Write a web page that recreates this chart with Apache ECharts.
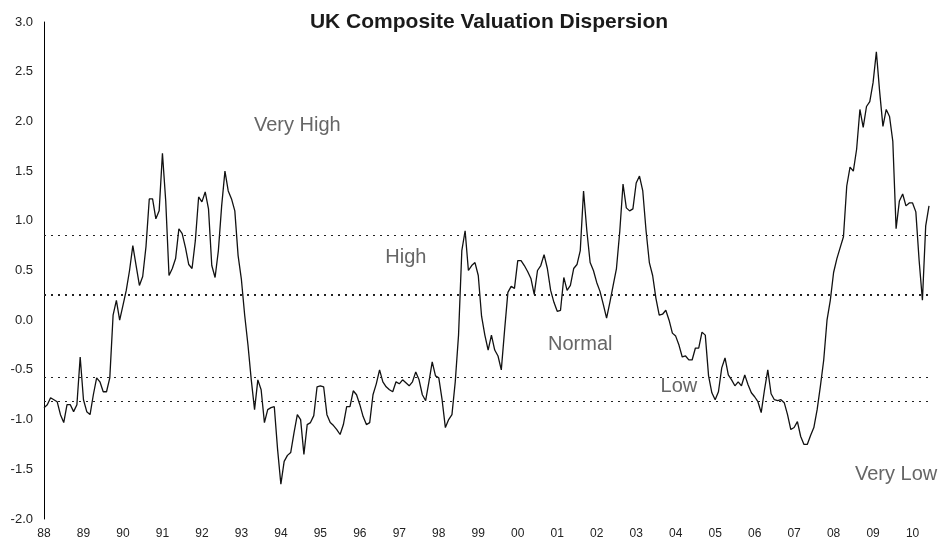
<!DOCTYPE html>
<html>
<head>
<meta charset="utf-8">
<script src="https://cdn.jsdelivr.net/npm/echarts@6/dist/echarts.min.js"></script>
<style>
  html, body { margin: 0; padding: 0; background: #fff; }
  #chart { width: 944px; height: 544px; }
</style>
</head>
<body>
<div id="chart"></div>
<script>
// year tick labels (one label each January)
const yearLabels = ['88', '89', '90', '91', '92', '93', '94', '95', '96', '97', '98',
  '99', '00', '01', '02', '03', '04', '05', '06', '07', '08', '09', '10'];

// monthly readings
const v1988_1990 = [
  -0.88, -0.85, -0.78, -0.80, -0.82, -0.95, -1.03, -0.85, -0.85, -0.92, -0.85, -0.37,
  -0.80, -0.92, -0.95, -0.75, -0.58, -0.62, -0.72, -0.72, -0.58, 0.05, 0.20, 0.00,
  0.15, 0.30, 0.50, 0.75, 0.55, 0.35, 0.44, 0.74, 1.22, 1.22, 1.02, 1.10
];
const v1991_1993 = [
  1.68, 1.20, 0.45, 0.52, 0.62, 0.92, 0.87, 0.73, 0.56, 0.52, 0.80, 1.24,
  1.19, 1.29, 1.12, 0.55, 0.43, 0.70, 1.15, 1.50, 1.30, 1.22, 1.10, 0.65,
  0.41, 0.05, -0.25, -0.60, -0.90, -0.60, -0.70, -1.03, -0.90, -0.88, -0.87, -1.30
];
const v1994_1996 = [
  -1.65, -1.42, -1.36, -1.33, -1.13, -0.95, -1.00, -1.35, -1.05, -1.03, -0.96, -0.67,
  -0.66, -0.67, -0.95, -1.03, -1.06, -1.10, -1.15, -1.05, -0.87, -0.87, -0.71, -0.75,
  -0.85, -0.97, -1.05, -1.03, -0.75, -0.64, -0.50, -0.62, -0.67, -0.70, -0.72, -0.62
];
const v1997_1999 = [
  -0.64, -0.60, -0.63, -0.66, -0.62, -0.52, -0.60, -0.75, -0.81, -0.62, -0.42, -0.56,
  -0.58, -0.80, -1.08, -1.00, -0.95, -0.62, -0.15, 0.70, 0.90, 0.50, 0.55, 0.58,
  0.45, 0.04, -0.15, -0.30, -0.15, -0.30, -0.36, -0.50, -0.10, 0.28, 0.34, 0.32
];
const v2000_2002 = [
  0.60, 0.60, 0.55, 0.49, 0.42, 0.26, 0.50, 0.55, 0.66, 0.52, 0.30, 0.18,
  0.09, 0.10, 0.43, 0.30, 0.35, 0.52, 0.56, 0.70, 1.30, 0.90, 0.58, 0.50,
  0.38, 0.29, 0.16, 0.02, 0.18, 0.35, 0.52, 0.89, 1.37, 1.13, 1.10, 1.12
];
const v2003_2005 = [
  1.38, 1.45, 1.30, 0.90, 0.58, 0.45, 0.22, 0.05, 0.06, 0.10, 0.00, -0.13,
  -0.16, -0.25, -0.37, -0.36, -0.40, -0.40, -0.28, -0.28, -0.12, -0.15, -0.56, -0.73,
  -0.80, -0.72, -0.48, -0.38, -0.55, -0.60, -0.66, -0.62, -0.66, -0.55, -0.65, -0.73
];
const v2006_2008 = [
  -0.77, -0.82, -0.93, -0.70, -0.50, -0.74, -0.80, -0.81, -0.80, -0.83, -0.95, -1.10,
  -1.08, -1.02, -1.17, -1.25, -1.25, -1.16, -1.08, -0.90, -0.66, -0.40, 0.00, 0.20,
  0.48, 0.62, 0.73, 0.84, 1.35, 1.54, 1.50, 1.72, 2.12, 1.94, 2.15, 2.20
];
const v2009_2010 = [
  2.39, 2.70, 2.30, 1.95, 2.12, 2.05, 1.80, 0.92, 1.20, 1.27, 1.15, 1.18,
  1.18, 1.09, 0.60, 0.20, 0.95, 1.15
];

// band boundaries (dotted lines)
const thresholds = [0.855, 0.26, -0.57, -0.82];

// zone labels: [name, month index, value]
const zoneLabels = [
  ['Very High', 77, 1.96],
  ['High', 110, 0.63],
  ['Normal', 163, -0.24],
  ['Low', 193, -0.67],
  ['Very Low', 259, -1.55]
];

const values = [].concat(v1988_1990, v1991_1993, v1994_1996, v1997_1999,
  v2000_2002, v2003_2005, v2006_2008, v2009_2010);

// month categories, e.g. '88-1'
const categories = values.map(function (v, i) {
  return yearLabels[Math.floor(i / 12)] + '-' + (i % 12 + 1);
});

const chart = echarts.init(document.getElementById('chart'));

const option = {
  backgroundColor: '#fff',
  animation: false,
  title: {
    text: 'UK Composite Valuation Dispersion',
    left: 484,
    top: 7,
    textAlign: 'center',
    textStyle: {
      fontFamily: 'Liberation Sans',
      fontWeight: 'bold',
      fontSize: 21,
      color: '#1a1a1a'
    }
  },
  grid: {
    left: 44,
    right: 15,
    top: 22,
    bottom: 25
  },
  xAxis: {
    type: 'category',
    boundaryGap: false,
    data: categories,
    axisLine: { show: false },
    axisTick: { show: false },
    axisLabel: {
      interval: function (i) { return i % 12 === 0; },
      formatter: function (v) { return v.split('-')[0]; },
      margin: 9,
      fontFamily: 'Liberation Sans',
      fontSize: 12,
      color: '#222'
    },
    splitLine: { show: false }
  },
  yAxis: {
    type: 'value',
    min: -2,
    max: 3,
    interval: 0.5,
    axisLine: { show: true, lineStyle: { color: '#000', width: 1 } },
    axisTick: { show: false },
    axisLabel: {
      formatter: function (v) { return v.toFixed(1); },
      margin: 11,
      fontFamily: 'Liberation Sans',
      fontSize: 13,
      color: '#222'
    },
    splitLine: { show: false }
  },
  series: [{
    type: 'line',
    data: values,
    symbol: 'none',
    lineStyle: { color: '#111', width: 1.3 },
    markLine: {
      silent: true,
      symbol: 'none',
      label: { show: false },
      data: thresholds.map(function (t, i) {
        return {
          yAxis: t,
          lineStyle: {
            color: '#222',
            type: [2, 5],
            width: i === 1 ? 2 : 1
          }
        };
      })
    },
    markPoint: {
      silent: true,
      symbol: 'circle',
      symbolSize: 1,
      itemStyle: { color: 'rgba(0,0,0,0)' },
      label: {
        show: true,
        position: 'inside',
        formatter: '{b}',
        fontFamily: 'Liberation Sans',
        fontSize: 20,
        color: '#666'
      },
      data: zoneLabels.map(function (z) {
        return { name: z[0], coord: [categories[z[1]], z[2]] };
      })
    }
  }]
};

chart.setOption(option);
</script>
</body>
</html>
